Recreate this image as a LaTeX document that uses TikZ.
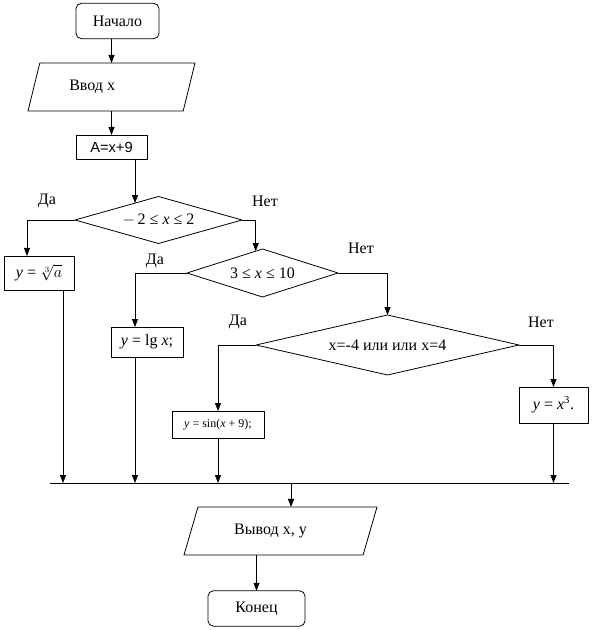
\documentclass[tikz,border=0pt]{standalone}
\usepackage{fontspec}
\setmainfont{Liberation Serif}
\newfontfamily\arialfont{Liberation Sans}
\usetikzlibrary{shapes.geometric,arrows.meta,calc}
\begin{document}
\begin{tikzpicture}[x=0.75pt, y=-0.75pt, font=\fontsize{12}{14}\selectfont, line join=round, line width=0.6pt, >={Triangle[length=6pt,width=4.5pt]},
		every node/.style={outer sep=0pt, inner sep=0pt},
		term/.style={draw, rounded corners=4pt, minimum width=#1, minimum height=26.5pt},
		io/.style={draw, trapezium, trapezium stretches body, trapezium left angle=#1, trapezium right angle=180-#1, minimum height=36pt},
		proc/.style={draw, rectangle},
		cond/.style={draw, diamond, aspect=#1}]
			\useasboundingbox (0,0) rectangle (591,630);
			% blocks
			\node[term=62.25pt] (start) at (117.5,21) {Начало};
			\node[io=49, minimum width=125.25pt] (in) at (111.5,87) {Ввод x\hspace{29pt}\mbox{}};
			\node[proc, minimum width=53.25pt, minimum height=18pt, font=\arialfont\fontsize{11}{13}\selectfont] (calcA) at (111.5,147) {A=x+9};
			\node[cond=3.55, minimum width=125.25pt, minimum height=35.25pt] (d1) at (158.5,220) {$-$\,2 ≤ \textit{x} ≤ 2};
			\node[cond=3.15, minimum width=113.25pt, minimum height=36pt] (d2) at (262.5,273) {3 ≤ \textit{x} ≤ 10};
			\node[cond=4.4, minimum width=197.25pt, minimum height=45pt] (d3) at (387.5,345) {x=-4 или или x=4};
			\node[proc, minimum width=52.5pt, minimum height=25.5pt] (b1) at (39,273) {\textit{y} = $\sqrt[3]{a}$};
			\node[proc, minimum width=54pt, minimum height=22.5pt] (b2) at (147,342) {\textit{y} = lg \textit{x};};
			\node[proc, minimum width=69pt, minimum height=20.25pt, font=\fontsize{9}{11}\selectfont] (b3) at (218,424.5) {\textit{y} = sin(\textit{x} + 9);};
			\node[proc, minimum width=51.75pt, minimum height=27pt] (b4) at (553.5,405) {\textit{y} = \textit{x}\textsuperscript{3}.};
			\node[io=45, minimum width=144.75pt] (out) at (280.5,531) {Вывод x, y\hspace{15pt}\mbox{}};
			\node[term=72.75pt] (stop) at (256.5,608.5) {Конец};
			% labels
			\node (yes1) at (47,201) {Да};
			\node (no1) at (265,201) {Нет};
			\node (yes2) at (155,261) {Да};
			\node (no2) at (361,248) {Нет};
			\node (yes3) at (238,322) {Да};
			\node (no3) at (541,322) {Нет};
			% bus
			\coordinate (busL) at (50,483);
			\coordinate (busR) at (569,483);
			\coordinate (j5) at (291,483);
			\draw (busL) -- (busR);
			% connectors
			\coordinate (e1) at ($(d1.north)!0.28!(d1.west)$);
			\coordinate (e2) at ($(d2.north)!0.09!(d2.west)$);
			\draw[->] (in.north |- start.south) -- (in.north);
			\draw[->] (calcA.north |- in.south) -- (calcA.north);
			\draw[->] ($(calcA.south)+(23.5,0)$) coordinate (j0) -- (j0 |- e1);
			\draw[->] (d1.west) -| ($(b1.north)+(-12,0)$);
			\draw[->] (d1.east) -| (e2);
			\draw[->] (d2.west) -| ($(b2.north)+(-12,0)$);
			\draw[->] (d2.east) -| (d3.north);
			\draw[->] (d3.west) -| (b3.north);
			\draw[->] (d3.east) -| (b4.north);
			\draw[->] ($(b1.south)+(24,0)$) coordinate (j1) -- (j1 |- busL);
			\draw[->] ($(b2.south)+(-12,0)$) coordinate (j2) -- (j2 |- busL);
			\draw[->] (b3.south) -- (b3.south |- busL);
			\draw[->] (b4.south) -- (b4.south |- busL);
			\draw[->] (j5) -- (j5 |- out.north);
			\draw[->] (stop.north |- out.south) -- (stop.north);
		\end{tikzpicture}
\end{document}
